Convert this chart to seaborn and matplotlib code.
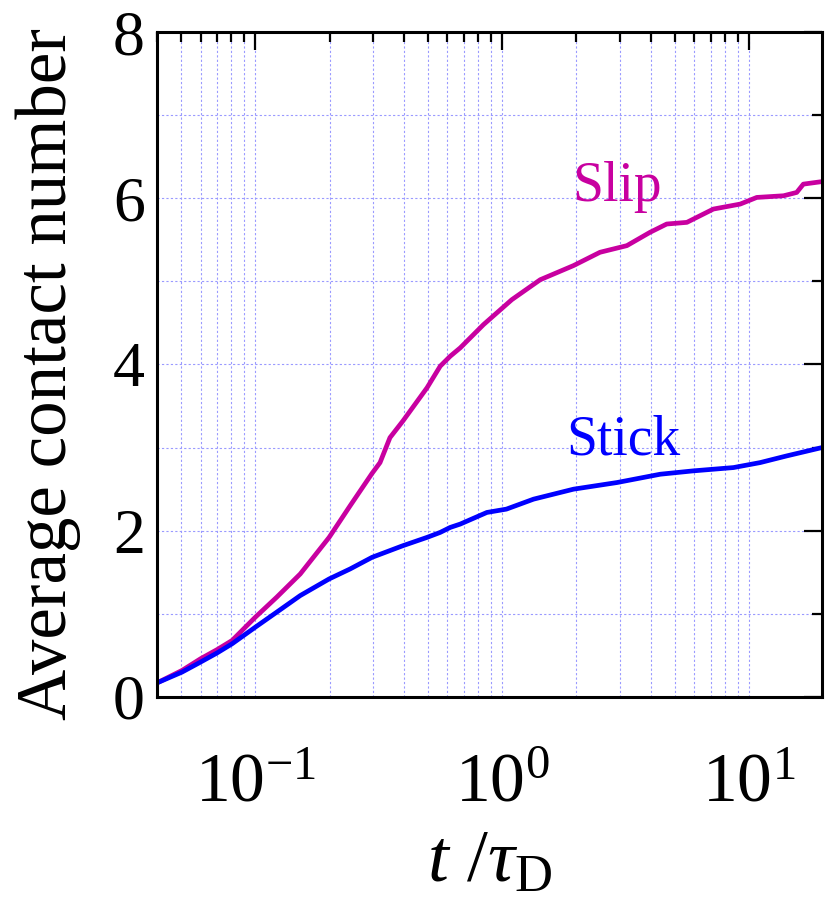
import matplotlib
matplotlib.use("Agg")
import matplotlib.pyplot as plt
import matplotlib.ticker as mticker
import seaborn as sns
import pandas as pd

# values
slip_t = [0.040, 0.0505, 0.060, 0.070, 0.0805, 0.0897, 0.100, 0.122, 0.152, 0.199,
          0.242, 0.297, 0.320, 0.351, 0.396, 0.496, 0.561, 0.616, 0.676, 0.840,
          1.094, 1.426, 1.945, 2.49, 3.20, 3.97, 4.64, 5.60, 7.17, 9.21,
          10.75, 13.8, 15.6, 16.6, 19.7]
slip_n = [0.17, 0.32, 0.46, 0.57, 0.68, 0.82, 0.96, 1.20, 1.48, 1.92,
          2.30, 2.69, 2.82, 3.12, 3.32, 3.72, 3.98, 4.10, 4.20, 4.48,
          4.78, 5.02, 5.19, 5.35, 5.43, 5.59, 5.69, 5.71, 5.87, 5.93,
          6.01, 6.03, 6.07, 6.17, 6.20]

stick_t = [0.040, 0.0505, 0.060, 0.070, 0.0805, 0.100, 0.122, 0.152, 0.199, 0.242,
           0.297, 0.396, 0.496, 0.561, 0.616, 0.676, 0.867, 1.04, 1.34, 1.945,
           2.92, 4.37, 5.93, 8.65, 11.1, 14.2, 19.7]
stick_n = [0.17, 0.30, 0.42, 0.53, 0.64, 0.84, 1.02, 1.22, 1.42, 1.54,
           1.68, 1.82, 1.92, 1.98, 2.04, 2.08, 2.22, 2.26, 2.38, 2.50,
           2.58, 2.68, 2.72, 2.76, 2.82, 2.90, 3.00]

series_colors = {"Slip": "#c800a0", "Stick": "#0000ff"}

df = pd.concat([
    pd.DataFrame({"t": slip_t, "n": slip_n, "kind": "Slip"}),
    pd.DataFrame({"t": stick_t, "n": stick_n, "kind": "Stick"}),
], ignore_index=True)

sns.set_theme(style="white")
plt.rcParams["font.family"] = ["Liberation Serif", "DejaVu Serif"]
plt.rcParams["mathtext.fontset"] = "custom"
plt.rcParams["mathtext.rm"] = "Liberation Serif"
plt.rcParams["mathtext.it"] = "Liberation Serif:italic"
plt.rcParams["axes.unicode_minus"] = False
plt.rcParams["text.color"] = "black"
plt.rcParams["axes.labelcolor"] = "black"
plt.rcParams["xtick.color"] = "black"
plt.rcParams["ytick.color"] = "black"

fig = plt.figure(figsize=(8.27, 9.02), dpi=100)
ax = fig.add_axes([0.190, 0.2273, 0.8036, 0.7372])

sns.lineplot(data=df, x="t", y="n", hue="kind", palette=series_colors,
             estimator=None, sort=False, linewidth=3.4, legend=False, ax=ax)

ax.set_xscale("log")
ax.set_xlim(0.04, 19.7)
ax.set_ylim(0, 8)

ax.xaxis.set_major_locator(mticker.LogLocator(base=10, numticks=10))
ax.xaxis.set_minor_locator(mticker.LogLocator(base=10, subs=range(2, 10), numticks=20))
ax.xaxis.set_major_formatter(mticker.LogFormatterMathtext())
ax.xaxis.set_minor_formatter(mticker.NullFormatter())
ax.yaxis.set_major_locator(mticker.MultipleLocator(2))
ax.yaxis.set_minor_locator(mticker.MultipleLocator(1))

ax.grid(which="both", color="#9a9aff", linestyle=(0, (2, 2)), linewidth=0.8)
ax.set_axisbelow(True)

for s in ax.spines.values():
    s.set_linewidth(2.2)
    s.set_color("black")

ax.tick_params(which="major", direction="in", length=13, width=1.6,
               top=True, right=True, labelsize=46)
ax.tick_params(which="minor", direction="in", length=7, width=1.6,
               top=True, right=True)
ax.tick_params(axis="x", which="major", pad=40, labelsize=50)
ax.tick_params(axis="y", which="major", pad=9)

ax.set_xlabel(r"$t$ /$\tau_{\mathrm{D}}$", fontsize=54, labelpad=10)
ax.set_ylabel("Average contact number", fontsize=51)
ax.yaxis.set_label_coords(-0.115, 0.486)

ax.text(2.93, 5.97, "Slip", color=series_colors["Slip"], fontsize=40,
        ha="center", va="baseline")
ax.text(3.10, 2.92, "Stick", color=series_colors["Stick"], fontsize=40,
        ha="center", va="baseline")

fig.savefig("out.png", dpi=100)
